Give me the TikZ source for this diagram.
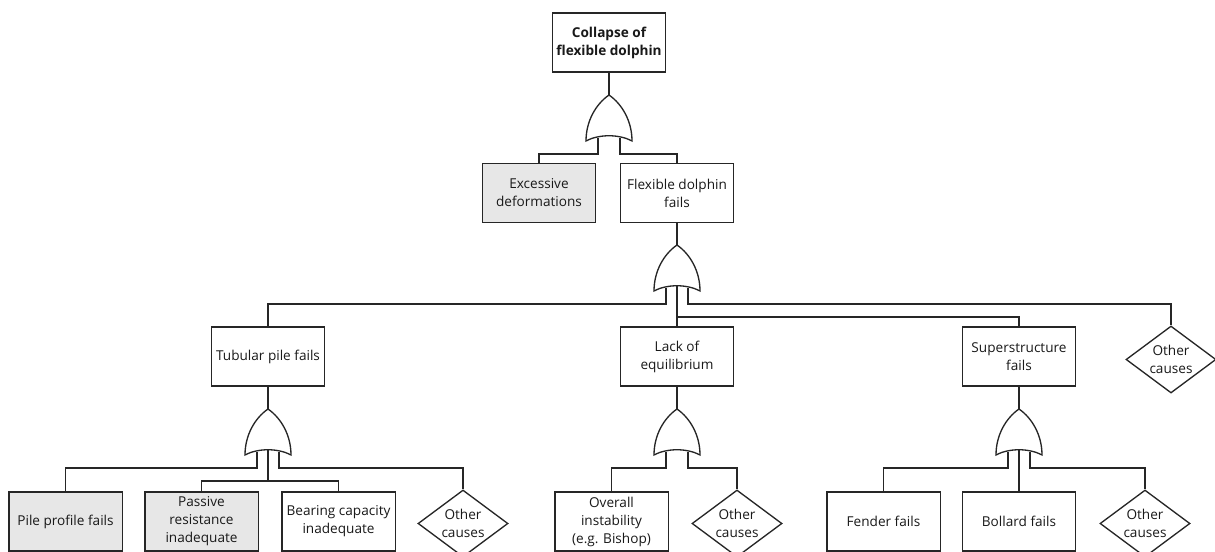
\documentclass[tikz,border=0pt]{standalone}
\usepackage{fontspec}
\setmainfont{Open Sans}
\usetikzlibrary{shapes.geometric}
\definecolor{basicgray}{RGB}{231,231,231}
\tikzset{
	evt/.style={draw=black!85,fill=white,line width=1pt,minimum width=85pt,minimum height=44.25pt,align=center,inner sep=1pt},
	basic/.style={evt,fill=basicgray},
	other/.style={draw=black!85,fill=white,line width=1pt,shape=diamond,aspect=1.34,minimum width=67.5pt,minimum height=50.25pt,inner sep=0pt,align=center},
	orgate/.pic={
		\draw[fill=white] (-23,46) .. controls (-23,26) and (-13,9) .. (0,0) .. controls (13,9) and (23,26) .. (23,46) .. controls (10,39) and (-10,39) .. (-23,46) -- cycle;
		\coordinate (-top) at (0,0);
		\coordinate (-l) at (-11,43);
		\coordinate (-m) at (0,41);
		\coordinate (-r) at (11,43);
	}
}
\begin{document}
\begin{tikzpicture}[x=0.75pt,y=-0.75pt,line width=1pt,draw=black!85,
		every node/.style={font=\fontsize{10.2}{13.5}\selectfont,text=black!90}]
	\useasboundingbox (0,0) rectangle (1215,552);
	% top event
	\node[evt] (top) at (609,42.5) {\bfseries Collapse of\\\bfseries flexible dolphin};
	\pic (g1) at (609,95) {orgate};
	\node[basic] (exc) at (539,193) {Excessive\\deformations};
	\node[evt] (flex) at (677,193) {Flexible dolphin\\fails};
	\pic (g2) at (677,245) {orgate};
	% second level
	\node[evt] (tub) at (268,356.5) {Tubular pile fails};
	\node[evt] (lack) at (677,356.5) {Lack of\\equilibrium};
	\node[evt] (super) at (1019,356.5) {Superstructure\\fails};
	\node[other] (oth1) at (1171,359.5) {Other\\causes};
	\pic (g3) at (268,409) {orgate};
	\pic (g4) at (677,409) {orgate};
	\pic (g5) at (1019,409) {orgate};
	% basic events
	\node[basic] (pile) at (65.5,521.5) {Pile profile fails};
	\node[basic] (pas) at (201.5,521.5) {Passive\\resistance\\inadequate};
	\node[evt] (bear) at (338.5,521.5) {Bearing capacity\\inadequate};
	\node[other] (oth2) at (463,523.5) {Other\\causes};
	\node[evt] (over) at (611.5,521.5) {Overall\\instability\\(e.g. Bishop)};
	\node[other] (oth3) at (737,523.5) {Other\\causes};
	\node[evt] (fen) at (883.5,521.5) {Fender fails};
	\node[evt] (bol) at (1019,521.5) {Bollard fails};
	\node[other] (oth4) at (1145,523.5) {Other\\causes};
	% connections
	\draw (top.south) -- (g1-top);
	\draw (g1-l) -- ++(0,16) -| (exc.north);
	\draw (g1-r) -- ++(0,16) -| (flex.north);
	\draw (flex.south) -- (g2-top);
	\draw (g2-l) -- ++(0,16) -| (tub.north);
	\draw (g2-m) -- (lack.north);
	\draw (g2-m) ++(0,31) -| (super.north);
	\draw (g2-r) -- ++(0,16) -| (oth1.north);
	\draw (tub.south) -- (g3-top);
	\draw (lack.south) -- (g4-top);
	\draw (super.south) -- (g5-top);
	\draw (g3-l) -- ++(0,16) -| (pile.north);
	\draw (g3-m) -- ++(0,31) coordinate (t3);
	\draw (pas.north) |- (t3) -| (bear.north);
	\draw (g3-r) -- ++(0,16) -| (oth2.north);
	\draw (g4-l) -- ++(0,16) -| (over.north);
	\draw (g4-r) -- ++(0,16) -| (oth3.north);
	\draw (g5-l) -- ++(0,16) -| (fen.north);
	\draw (g5-m) -- (bol.north);
	\draw (g5-r) -- ++(0,16) -| (oth4.north);
\end{tikzpicture}
\end{document}
